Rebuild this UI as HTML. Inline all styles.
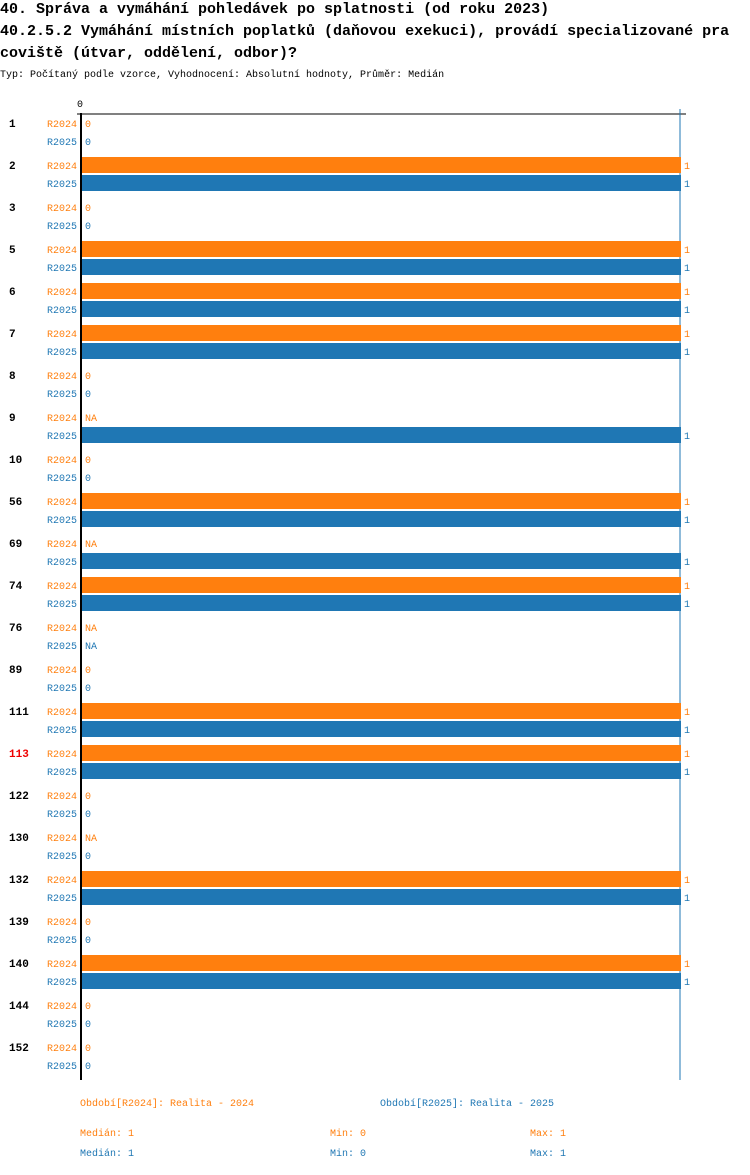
<!DOCTYPE html>
<html><head><meta charset="utf-8"><style>
body{margin:0;background:#fff;width:750px;height:1170px;overflow:hidden}
svg text{font-family:"Liberation Mono",monospace}
</style></head><body>
<svg id="c" width="750" height="1170">
<text x="0" y="13" font-size="15" font-weight="bold">40. Správa a vymáhání pohledávek po splatnosti (od roku 2023)</text>
<text x="0" y="35" font-size="15" font-weight="bold">40.2.5.2 Vymáhání místních poplatků (daňovou exekuci), provádí specializované pra</text>
<text x="0" y="57" font-size="15" font-weight="bold">coviště (útvar, oddělení, odbor)?</text>
<text x="0" y="77" font-size="10">Typ: Počítaný podle vzorce, Vyhodnocení: Absolutní hodnoty, Průměr: Medián</text>
<text x="80" y="107" font-size="10" text-anchor="middle">0</text>
<line x1="77" y1="114" x2="686" y2="114" stroke="#000" stroke-width="1"/>
<line x1="680" y1="109" x2="680" y2="1080" stroke="#1f77b4" stroke-width="1"/>
<g id="bars"></g>
<line x1="81" y1="113" x2="81" y2="1080" stroke="#000" stroke-width="2"/>
<text x="80" y="1106" font-size="10" fill="#ff7f0e">Období[R2024]: Realita - 2024</text>
<text x="380" y="1106" font-size="10" fill="#1f77b4">Období[R2025]: Realita - 2025</text>
<text x="80" y="1136" font-size="10" fill="#ff7f0e">Medián: 1</text>
<text x="330" y="1136" font-size="10" fill="#ff7f0e">Min: 0</text>
<text x="530" y="1136" font-size="10" fill="#ff7f0e">Max: 1</text>
<text x="80" y="1156" font-size="10" fill="#1f77b4">Medián: 1</text>
<text x="330" y="1156" font-size="10" fill="#1f77b4">Min: 0</text>
<text x="530" y="1156" font-size="10" fill="#1f77b4">Max: 1</text>
</svg>
<script>
const categories=["1","2","3","5","6","7","8","9","10","56","69","74","76","89","111","113","122","130","132","139","140","144","152"];
const r2024=[0,1,0,1,1,1,0,null,0,1,null,1,null,0,1,1,0,null,1,0,1,0,0];
const r2025=[0,1,0,1,1,1,0,1,0,1,1,1,null,0,1,1,0,0,1,0,1,0,0];
const highlight="113";
const xMax=1;
const NS="http://www.w3.org/2000/svg";
const g=document.getElementById('bars');
function x(v){return 82+v/xMax*599;}
function mk(t,a){const e=document.createElementNS(NS,t);for(const k in a)e.setAttribute(k,a[k]);g.appendChild(e);return e;}
categories.forEach((c,i)=>{
  const y0=123+i*42;
  const lab=mk('text',{x:9,y:y0+4,'font-size':11,'font-weight':'bold',fill:c===highlight?'#e00':'#000'});
  
  
  lab.textContent=c;
  [[r2024,'#ff7f0e','R2024',0],[r2025,'#1f77b4','R2025',18]].forEach(([arr,col,nm,off])=>{
    const yc=y0+off, v=arr[i];
    const s=mk('text',{x:47,y:yc+4,'font-size':10,fill:col});
    
    
    s.textContent=nm;
    if(v!==null&&v>0){
      const r=mk('rect',{x:82,y:yc-8,width:x(v)-82,height:16,fill:col});
      
      
    }
    const t=mk('text',{x:(v?x(v):82)+3,y:yc+4,'font-size':10,fill:col});
    
    
    t.textContent=v===null?'NA':String(v);
  });
});
</script>
</body></html>
